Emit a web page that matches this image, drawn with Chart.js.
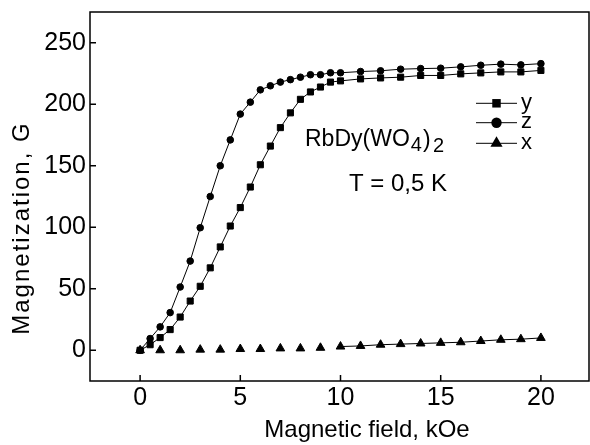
<!DOCTYPE html>
<html>
<head>
<meta charset="utf-8">
<script src="https://cdn.jsdelivr.net/npm/chart.js@4.4.1/dist/chart.umd.min.js"></script>
<style>
    html, body { margin: 0; padding: 0; background: #fff; }
    canvas { display: block; }
</style>
</head>
<body>
<canvas id="GraficoMagnetizacao" width="590" height="445"></canvas>
<script>

// campo magnetico (kOe) para as series z e y
var campoZY = [0, 0.5, 1, 1.5, 2, 2.5, 3, 3.5, 4, 4.5, 5, 5.5, 6, 6.5, 7, 7.5, 8, 8.5, 9, 9.5,
               10, 11, 12, 13, 14, 15, 16, 17, 18, 19, 20];
// campo magnetico (kOe) para a serie x
var campoX = [0, 1, 2, 3, 4, 5, 6, 7, 8, 9, 10, 11, 12, 13, 14, 15, 16, 17, 18, 19, 20];

// magnetizacao (G)
var magZ = [0, 9.5, 19, 30.6, 51.4, 72.5, 99.6, 125, 150, 171, 192, 201.7, 211.7, 215, 218, 220, 222, 224, 224, 225.6,
            225.6, 226.6, 227.2, 228.5, 229, 229.3, 230.4, 231.7, 232.6, 232, 233];
var magY = [0, 4.5, 10.3, 16.8, 27, 40, 52, 67, 84, 101, 116, 132.7, 150.8, 166, 181, 193, 204, 210, 214, 218,
            219, 220.6, 221.4, 222, 223.4, 223.4, 224.7, 225.5, 226.3, 226.3, 227.5];
var magX = [0, 0, 0, 0.5, 0.5, 1, 1, 1.5, 1.5, 2, 3, 3.5, 4.5, 5, 5.5, 6, 6.5, 7.5, 8.5, 9, 10];

var ticksCampo = [0, 5, 10, 15, 20];
var ticksMag = [0, 50, 100, 150, 200, 250];

var series = ["y", "z", "x"];
var estilos = ["rect", "circle", "triangle"];

var FONTE = "'Liberation Sans', Arial, Helvetica, sans-serif";

function pontos(xs, ys) {
    return xs.map(function (x, i) { return { x: x, y: ys[i] }; });
}

// moldura, tracos internos, titulos dos eixos, legenda e anotacoes
var moldura = {
    id: 'moldura',
    afterDraw: function (chart) {
        var ctx = chart.ctx;
        var a = chart.chartArea;
        var sx = chart.scales.x;
        var sy = chart.scales.y;

        ctx.save();
        ctx.strokeStyle = '#000';
        ctx.fillStyle = '#000';
        ctx.lineWidth = 1.5;
        ctx.strokeRect(a.left, a.top, a.right - a.left, a.bottom - a.top);

        ctx.beginPath();
        ticksCampo.forEach(function (v) {
            var px = sx.getPixelForValue(v);
            ctx.moveTo(px, a.bottom);
            ctx.lineTo(px, a.bottom - 6);
        });
        ticksMag.forEach(function (v) {
            var py = sy.getPixelForValue(v);
            ctx.moveTo(a.left, py);
            ctx.lineTo(a.left + 6, py);
        });
        ctx.stroke();

        // titulos dos eixos
        ctx.font = '24px ' + FONTE;
        ctx.textAlign = 'center';
        ctx.textBaseline = 'alphabetic';
        ctx.fillText('Magnetic field, kOe', 367, 437);

        ctx.save();
        ctx.translate(29, 228);
        ctx.rotate(-Math.PI / 2);
        ctx.letterSpacing = '2px';
        ctx.fillText('Magnetization, G', 0, 0);
        ctx.restore();

        // formula e temperatura
        ctx.textAlign = 'left';
        var x0 = 305;
        ctx.font = '23px ' + FONTE;
        ctx.fillText('RbDy(WO', x0, 145.5);
        x0 += ctx.measureText('RbDy(WO').width + 1;
        ctx.font = '20px ' + FONTE;
        ctx.fillText('4', x0, 150.5);
        x0 += ctx.measureText('4').width + 1;
        ctx.font = '23px ' + FONTE;
        ctx.fillText(')', x0, 146.5);
        x0 += ctx.measureText(')').width + 2.5;
        ctx.font = '20px ' + FONTE;
        ctx.fillText('2', x0, 152);

        ctx.font = '24px ' + FONTE;
        ctx.fillText('T = 0,5 K', 349, 191);

        // legenda
        var linhas = [103.3, 122.7, 143.3];
        var raios = [6, 5.2, 7];
        ctx.lineWidth = 1;
        ctx.font = '22px ' + FONTE;
        series.forEach(function (nome, i) {
            var ly = linhas[i];
            ctx.beginPath();
            ctx.moveTo(476, ly);
            ctx.lineTo(517, ly);
            ctx.stroke();
            Chart.helpers.drawPoint(ctx, { pointStyle: estilos[i], radius: raios[i], rotation: 0, borderWidth: 0 }, 496.5, ly);
            ctx.fillText(nome, 521, ly + 5.5);
        });
        ctx.restore();
    }
};

function MontarGraficoMagnetizacao() {
    var conjuntos = [
        { label: series[0], data: pontos(campoZY, magY), pointStyle: estilos[0], pointRadius: 4.3 },
        { label: series[1], data: pontos(campoZY, magZ), pointStyle: estilos[1], pointRadius: 3.3 },
        {
            label: series[2], data: pontos(campoX, magX), pointStyle: estilos[2], pointRadius: 5,
            segment: {
                borderColor: function (c) { return c.p0.parsed.x < 10 ? 'rgba(0,0,0,0)' : '#000'; }
            }
        }
    ];
    conjuntos.forEach(function (d) {
        d.borderColor = '#000';
        d.borderWidth = 1;
        d.backgroundColor = '#000';
        d.pointBackgroundColor = '#000';
        d.pointBorderColor = '#000';
        d.pointBorderWidth = 1;
        d.pointHoverRadius = 0;
        d.tension = 0;
        d.clip = false;
    });

    new Chart(document.getElementById("GraficoMagnetizacao"), {

        type: 'line',

        data: { datasets: conjuntos },

        options: {
            responsive: false,
            animation: false,
            devicePixelRatio: 1,
            layout: { autoPadding: false, padding: { top: 12, right: 1, left: 0, bottom: 0 } },
            plugins: {
                legend: { display: false },
                tooltip: { enabled: false }
            },
            scales: {
                x: {
                    type: 'linear',
                    min: -2.5,
                    max: 22.4,
                    afterBuildTicks: function (s) { s.ticks = ticksCampo.map(function (v) { return { value: v }; }); },
                    afterFit: function (s) { s.height = 64; s.paddingLeft = 0; s.paddingRight = 0; },
                    grid: { display: false, drawTicks: false },
                    border: { display: false },
                    ticks: {
                        padding: 2,
                        color: '#000',
                        maxRotation: 0,
                        font: { family: FONTE, size: 25, lineHeight: 1.2 }
                    }
                },
                y: {
                    type: 'linear',
                    min: -25,
                    max: 275,
                    afterBuildTicks: function (s) { s.ticks = ticksMag.map(function (v) { return { value: v }; }); },
                    afterFit: function (s) { s.width = 90; s.paddingTop = 0; s.paddingBottom = 0; },
                    grid: { display: false, drawTicks: false },
                    border: { display: false },
                    ticks: {
                        padding: 4,
                        color: '#000',
                        font: { family: FONTE, size: 25, lineHeight: 1.2 }
                    }
                }
            }
        },

        plugins: [moldura]
    });
}

MontarGraficoMagnetizacao();
</script>
</body>
</html>
